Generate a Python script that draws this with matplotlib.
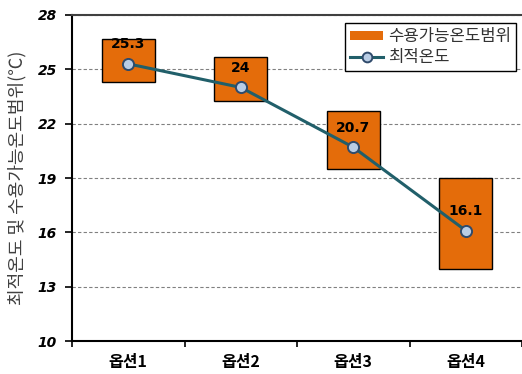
import numpy as np
import matplotlib
matplotlib.use("Agg")
import matplotlib.pyplot as plt
from matplotlib.patches import Patch
from matplotlib.lines import Line2D

plt.rcParams['font.family'] = ['Noto Sans CJK KR', 'DejaVu Sans']

# data
options = ["옵션1", "옵션2", "옵션3", "옵션4"]
optimal = [25.3, 24, 20.7, 16.1]
range_low = [24.3, 23.25, 19.5, 14.0]
range_high = [26.7, 25.7, 22.7, 19.0]
y_ticks = [10, 13, 16, 19, 22, 25, 28]

orange = "#E46C0A"
line_col = "#215F6A"
face_col = "#B9CDE5"
edge_col = "#2F4A6B"

fig = plt.figure(figsize=(5.22, 3.74), dpi=100)
ax = fig.add_axes([0.138, 0.088, 0.862, 0.872])

x = np.arange(len(options))
heights = np.array(range_high) - np.array(range_low)

# floating bars for the acceptable range
ax.bar(x, heights, bottom=range_low, width=0.47, color=orange,
       edgecolor="black", linewidth=1.0, zorder=3)

# optimal temperature line
ax.plot(x, optimal, color=line_col, linewidth=2.2, marker="o", markersize=8,
        markerfacecolor=face_col, markeredgecolor=edge_col,
        markeredgewidth=1.4, zorder=4)

for xi, v in zip(x, optimal):
    ax.annotate(f"{v:g}", (xi, v), xytext=(0, 9), textcoords="offset points",
                ha="center", va="bottom", fontsize=10, fontweight="bold",
                family=['DejaVu Sans'], zorder=5)

ax.set_ylim(10, 28)
ax.set_xlim(-0.5, 3.5)
ax.set_yticks(y_ticks)
ax.set_yticklabels([str(t) for t in y_ticks], fontsize=10, fontweight="bold",
                   fontstyle="italic", family=['DejaVu Sans'])
ax.set_xticks(x)
ax.set_xticklabels(options, fontsize=11.5, fontweight="bold")
ax.set_xticks(np.arange(-0.5, 4.0, 1.0), minor=True)
ax.tick_params(axis="x", which="major", length=0, pad=9)
ax.tick_params(axis="x", which="minor", length=4, width=1.2)
ax.tick_params(axis="y", length=5, width=1.2, pad=6)

ax.yaxis.grid(True, linestyle=(0, (3, 2)), color="#808080", linewidth=0.8, zorder=0)
ax.set_axisbelow(True)

ax.spines["right"].set_visible(False)
ax.spines["top"].set_color("#404040")
ax.spines["top"].set_linewidth(1.5)
ax.spines["left"].set_linewidth(1.5)
ax.spines["bottom"].set_linewidth(1.5)

ax.set_ylabel("최적온도 및 수용가능온도범위(℃)", fontsize=13, color="#404040", labelpad=8)

handles = [
    Patch(facecolor=orange, edgecolor="none"),
    Line2D([], [], color=line_col, linewidth=2.2, marker="o", markersize=7,
           markerfacecolor=face_col, markeredgecolor=edge_col, markeredgewidth=1.4),
]
leg = ax.legend(handles, ["수용가능온도범위", "최적온도"], loc="upper right",
                bbox_to_anchor=(0.995, 0.985), fontsize=12, frameon=True,
                fancybox=False, edgecolor="black", framealpha=1,
                handlelength=2.0, handleheight=0.5, borderpad=0.3,
                labelspacing=0.25, handletextpad=0.3, borderaxespad=0.2)
leg.get_frame().set_linewidth(1.0)
for t in leg.get_texts():
    t.set_color("#333333")

fig.savefig("out.png", dpi=100)
